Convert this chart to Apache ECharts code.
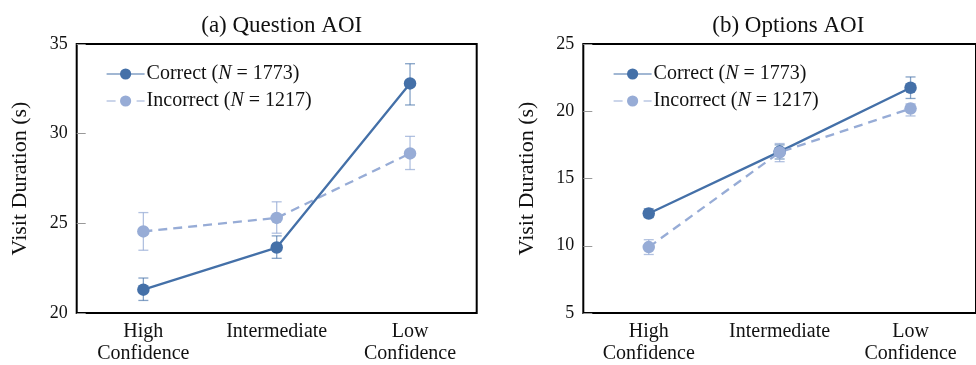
<!DOCTYPE html>
<html>
<head>
<meta charset="utf-8">
<script src="https://cdn.jsdelivr.net/npm/echarts@6/dist/echarts.min.js"></script>
<style>
html,body{margin:0;padding:0;background:#fff;}
#c{width:976px;height:365px;}
</style>
</head>
<body>
<div id="c"></div>
<script>
// ---- data ----
var categories = ['High\nConfidence', 'Intermediate', 'Low\nConfidence'];
var panelTitles = ['(a) Question AOI', '(b) Options AOI'];
var seriesNames = ['Correct', 'Incorrect'];
var seriesN = [1773, 1217];

var qCorrect   = [21.3, 23.65, 32.8];
var qCorrectLo = [20.7, 23.05, 31.6];
var qCorrectHi = [21.95, 24.3, 33.9];
var qIncorrect   = [24.55, 25.3, 28.9];
var qIncorrectLo = [23.5, 24.45, 28.0];
var qIncorrectHi = [25.6, 26.2, 29.85];

var oCorrect   = [12.4, 17.0, 21.75];
var oCorrectLo = [12.1, 16.45, 20.95];
var oCorrectHi = [12.75, 17.5, 22.55];
var oIncorrect   = [9.9, 16.95, 20.2];
var oIncorrectLo = [9.35, 16.25, 19.65];
var oIncorrectHi = [10.45, 17.6, 20.55];

var qTicks = {min: 20, max: 35, interval: 5};
var oTicks = {min: 5, max: 25, interval: 5};

// ---- style ----
var FONT = '"Liberation Serif", "Times New Roman", serif';
var C1 = '#4470a8';
var C2 = '#97acd6';
var EB1 = 'rgba(68,112,168,0.65)';
var EB2 = 'rgba(151,172,214,0.75)';

var chart = echarts.init(document.getElementById('c'), null, {renderer: 'canvas'});

function errSeries(xi, yi, lo, hi, color, z) {
  var data = lo.map(function (l, i) { return [i, l, hi[i]]; });
  return {
    type: 'custom', xAxisIndex: xi, yAxisIndex: yi, z: z, silent: true,
    data: data,
    renderItem: function (params, api) {
      var x = api.value(0);
      var a = api.coord([x, api.value(1)]);
      var b = api.coord([x, api.value(2)]);
      var w = 5;
      var st = {stroke: color, lineWidth: 1.3};
      return {type: 'group', children: [
        {type: 'line', shape: {x1: a[0], y1: a[1], x2: b[0], y2: b[1]}, style: st},
        {type: 'line', shape: {x1: a[0]-w, y1: a[1], x2: a[0]+w, y2: a[1]}, style: st},
        {type: 'line', shape: {x1: b[0]-w, y1: b[1], x2: b[0]+w, y2: b[1]}, style: st}
      ]};
    }
  };
}

function lineSeries(name, xi, yi, data, color, dashed) {
  return {
    name: name, type: 'line', xAxisIndex: xi, yAxisIndex: yi, z: 5,
    data: data, symbol: 'circle', symbolSize: 12.5,
    itemStyle: {color: color},
    lineStyle: {color: color, width: 2.3, type: dashed ? [9, 6] : 'solid'},
    emphasis: {disabled: true}
  };
}

var legendFormatter = function (name) {
  var n = seriesN[seriesNames.indexOf(name)];
  return '{t|' + name + ' (}{i|N}{t| = ' + n + ')}';
};
var legendRich = {
  t: {fontFamily: FONT, fontSize: 20, color: '#111', lineHeight: 20},
  i: {fontFamily: FONT, fontSize: 20, fontStyle: 'italic', color: '#111', lineHeight: 20}
};

function yAxis(gi, t) {
  return {
    type: 'value', gridIndex: gi, min: t.min, max: t.max, interval: t.interval,
    name: 'Visit Duration (s)', nameLocation: 'middle', nameGap: 45,
    nameTextStyle: {fontFamily: FONT, fontSize: 22, color: '#111'},
    axisLine: {show: false},
    axisTick: {show: true, inside: true, length: 9, lineStyle: {color: '#999', width: 1}},
    axisLabel: {fontFamily: FONT, fontSize: 18, color: '#111', margin: 9},
    splitLine: {show: false}
  };
}
function xAxis(gi) {
  return {
    type: 'category', gridIndex: gi, data: categories, boundaryGap: true,
    axisLine: {show: false}, axisTick: {show: false},
    axisLabel: {fontFamily: FONT, fontSize: 20, color: '#111', margin: 8, lineHeight: 22, interval: 0, hideOverlap: false},
    splitLine: {show: false}
  };
}

function legend(left) {
  return {data: seriesNames, orient: 'vertical', left: left, top: 59, itemWidth: 38, itemHeight: 14,
    itemGap: 7, formatter: legendFormatter, textStyle: {rich: legendRich, padding: [0,0,0,-3]},
    lineStyle: {width: 1.2}, selectedMode: false};
}

var option = {
  animation: false,
  backgroundColor: '#fff',
  title: [
    {text: panelTitles[0], left: 276.7, top: 9, textAlign: 'center',
     textStyle: {fontFamily: FONT, fontSize: 23, fontWeight: 'normal', color: '#111'}},
    {text: panelTitles[1], left: 783.3, top: 9, textAlign: 'center',
     textStyle: {fontFamily: FONT, fontSize: 23, fontWeight: 'normal', color: '#111'}}
  ],
  legend: [legend(101), legend(608)],
  grid: [
    {left: 76.7, top: 44, width: 400, height: 270, show: true, borderColor: '#000', borderWidth: 2, backgroundColor: 'transparent'},
    {left: 583.3, top: 44, width: 400, height: 270, show: true, borderColor: '#000', borderWidth: 2, backgroundColor: 'transparent'}
  ],
  xAxis: [xAxis(0), xAxis(1)],
  yAxis: [yAxis(0, qTicks), yAxis(1, oTicks)],
  series: [
    errSeries(0, 0, qIncorrectLo, qIncorrectHi, EB2, 1),
    errSeries(0, 0, qCorrectLo, qCorrectHi, EB1, 2),
    lineSeries('Incorrect', 0, 0, qIncorrect, C2, true),
    lineSeries('Correct', 0, 0, qCorrect, C1, false),
    errSeries(1, 1, oCorrectLo, oCorrectHi, EB1, 1),
    errSeries(1, 1, oIncorrectLo, oIncorrectHi, EB2, 2),
    lineSeries('Correct', 1, 1, oCorrect, C1, false),
    lineSeries('Incorrect', 1, 1, oIncorrect, C2, true)
  ]
};
chart.setOption(option);
</script>
</body>
</html>
